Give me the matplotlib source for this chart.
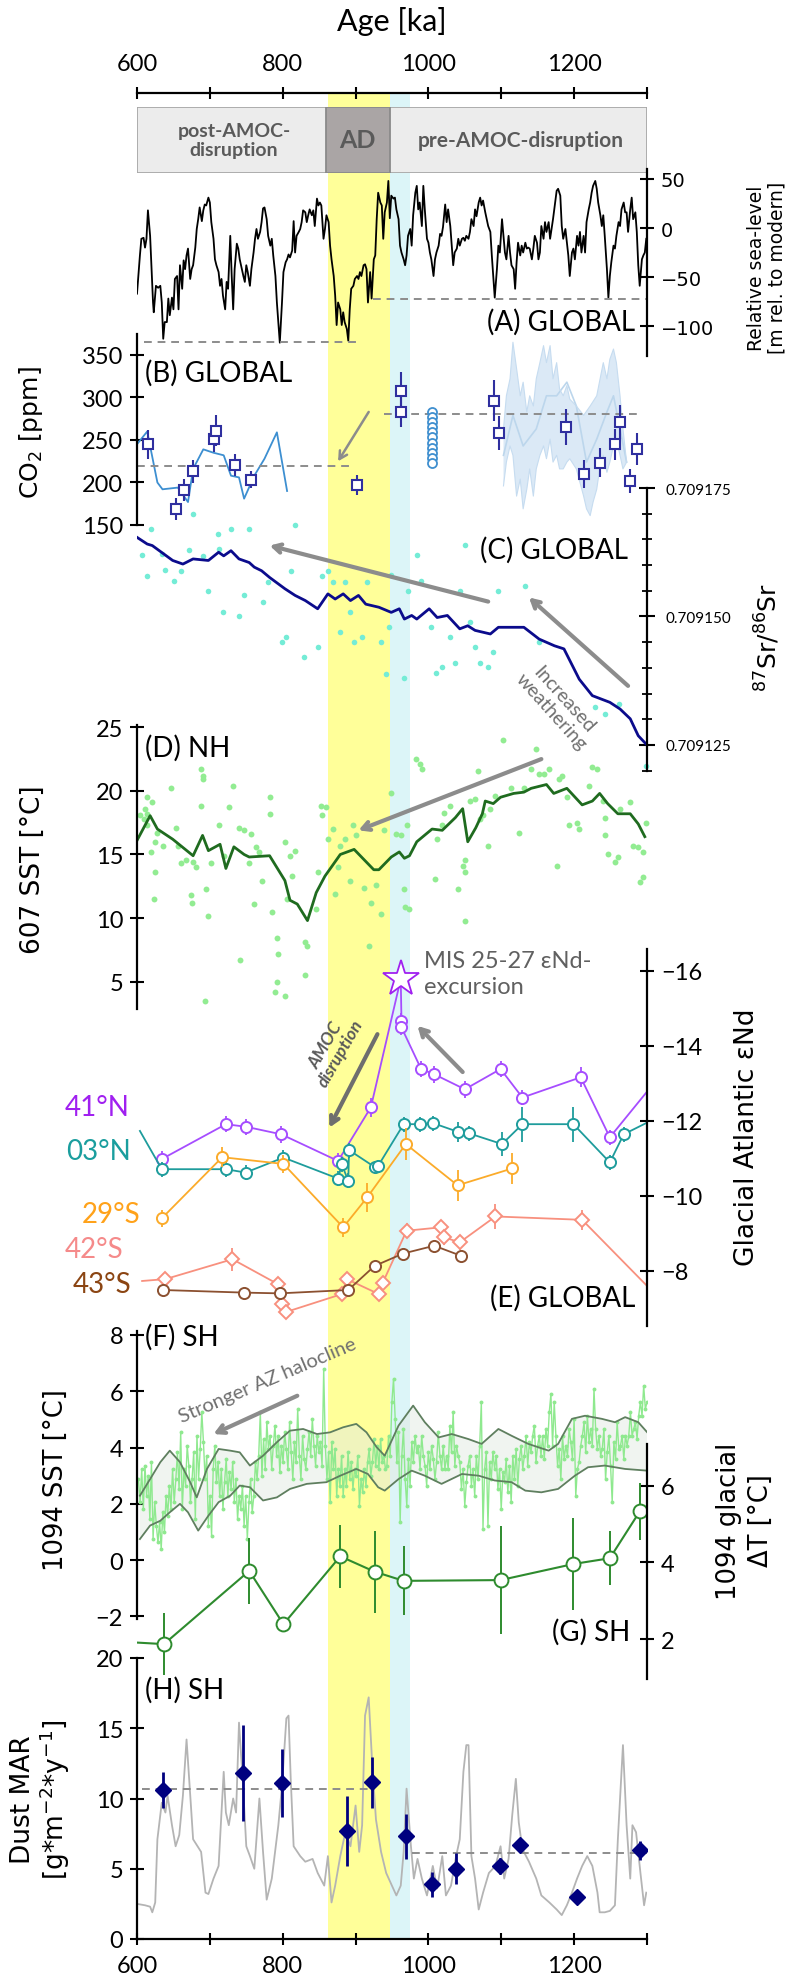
import numpy as np
import matplotlib
matplotlib.use("Agg")
import matplotlib.pyplot as plt
from matplotlib.patches import Rectangle

plt.rcParams['font.family'] = ['Lato', 'DejaVu Sans']

# ---------------- data ----------------
AGE_MIN, AGE_MAX = 600, 1300
AD_BOX = (859.5, 947)
YELLOW = (862, 947)
CYAN = (947, 975)

# (A) relative sea level [m]
sea = [(600,-67),(604,-28),(606,-11),(609,-10),(611,-20),(613,-11),(615,18),(618,-8),(620,-42),(622,-76),
       (623,-86),(626,-59),(629,-61),(632,-59),(634,-76),(636,-113),(638,-96),(641,-96),(643,-72),(645,-89),
       (648,-71),(650,-83),(652,-52),(655,-49),(657,-83),(659,-38),(662,-62),(664,-33),(666,-42),(668,-28),
       (670,-21),(673,-52),(675,-42),(677,-38),(680,-20),(682,-1),(684,9),(686,21),(689,7),(691,18),
       (693,24),(695,23),(698,31),(700,26),(702,6),(705,-11),(707,-32),(709,-38),(712,-45),(714,-59),
       (716,-52),(718,-69),(721,-83),(723,-55),(725,-62),(728,-8),(730,-49),(732,-83),(734,-42),(737,-16),
       (739,-21),(741,-32),(746,-49),(748,-55),(750,-38),(752,-45),(755,-59),(757,-42),(760,-25),(762,-11),
       (764,-1),(766,-11),(769,-4),(771,6),(773,20),(775,21),(778,9),(780,-8),(783,-18),(785,-11),
       (787,-28),(790,-49),(792,-76),(794,-96),(796,-117),(799,-76),(801,-45),(804,-35),(806,-32),(808,-27),
       (810,-30),(813,-23),(815,7),(817,-25),(819,-8),(822,-4),(824,-1),(826,6),(828,18),(831,16),
       (833,6),(835,13),(837,19),(840,13),(842,18),(844,2),(847,30),(849,23),(851,26),(853,23),
       (856,-11),(858,-1),(860,13),(863,6),(865,-18),(867,-32),(870,-49),(872,-69),(874,-99),(876,-76),
       (879,-83),(881,-99),(883,-86),(885,-96),(888,-103),(890,-115),(892,-83),(894,-62),(897,-59),(899,-52),
       (902,-49),(904,-52),(906,-45),(908,-49),(911,-38),(913,-37),(915,-42),(917,-76),(920,-45),(922,-72),
       (925,-32),(927,-28),(929,9),(931,36),(934,26),(936,23),(938,-11),(940,16),(943,26),(945,48),
       (947,10),(949,33),(952,30),(954,31),(956,19),(959,9),(961,-18),(963,-25),(966,-32),(968,-38),
       (970,-28),(972,-8),(975,-1),(977,-18),(979,13),(982,36),(984,43),(986,19),(988,26),(991,2),
       (993,43),(995,19),(998,-11),(1000,-15),(1002,-25),(1004,-32),(1007,-49),(1009,-32),(1011,-25),(1014,-18),
       (1016,-6),(1018,-8),(1020,1),(1023,24),(1025,6),(1027,19),(1030,2),(1032,-18),(1034,-38),(1036,-25),
       (1039,-21),(1041,-11),(1043,-18),(1046,-11),(1048,-10),(1050,-13),(1052,-8),(1055,-11),(1057,-4),(1059,9),
       (1062,2),(1064,19),(1066,12),(1069,26),(1071,31),(1073,23),(1075,28),(1078,16),(1080,9),(1082,2),
       (1085,-4),(1087,-28),(1089,-49),(1091,-71),(1094,-42),(1096,-18),(1098,-25),(1101,9),(1103,-8),(1105,-25),
       (1107,-32),(1110,-8),(1112,-25),(1114,-38),(1117,-42),(1119,-62),(1121,-35),(1123,-15),(1126,-28),(1128,-18),
       (1130,-25),(1133,-15),(1135,-21),(1137,-20),(1139,-21),(1142,-32),(1144,-21),(1146,-8),(1149,-15),(1151,-32),
       (1153,-25),(1155,2),(1158,-11),(1160,6),(1162,-4),(1165,6),(1167,-11),(1169,-1),(1171,9),(1174,26),
       (1176,38),(1178,40),(1181,33),(1183,2),(1185,-11),(1188,-1),(1190,-15),(1192,-28),(1194,-49),(1197,-25),
       (1199,-21),(1201,-32),(1204,-8),(1206,-18),(1208,-4),(1210,-25),(1213,-8),(1215,-25),(1217,6),(1220,19),
       (1222,26),(1224,36),(1226,43),(1229,48),(1231,40),(1233,26),(1236,13),(1238,2),(1240,13),(1242,-8),
       (1245,-42),(1247,-71),(1249,-49),(1251,-35),(1254,-18),(1256,-21),(1258,-8),(1261,6),(1263,2),(1265,19),
       (1268,26),(1270,16),(1272,16),(1274,-4),(1277,19),(1279,31),(1281,9),(1284,16),(1286,-4),(1288,-38),
       (1290,-59),(1293,-32),(1295,-28),(1297,-25),(1299,-11)]
sea_ref = [(-116.7, 609, 906), (-72, 924, 1300)]

# (B) CO2 [ppm]
co2_line = [(600,245),(614,260),(628,200),(635,192),(656,194),(670,177),(677,216),(691,239),(705,235),
            (719,232),(729,208),(740,206),(747,181),(761,208),(775,228),(792,259),(806,190)]
co2_sq_age = [615, 653, 665, 677, 706, 708, 735, 757, 902, 963, 963, 1090, 1097, 1189, 1214, 1235, 1256, 1263, 1277, 1286]
co2_sq_ppm = [245, 169, 191, 213, 251, 261, 221, 203, 197, 308, 283, 296, 258, 265, 210, 223, 245, 271, 202, 239]
co2_sq_err = [17, 13, 13, 14, 15, 18, 13, 10, 12, 22, 18, 24, 20, 21, 16, 17, 18, 20, 14, 19]
co2_circ_age = 1005
co2_circ_ppm = [283, 277, 271, 265, 259, 253, 247, 241, 235, 229, 223]
co2_band_hi = [(1103,263),(1107,302),(1112,322),(1116,365),(1121,334),(1126,302),(1130,318),(1135,283),(1139,302),
               (1144,290),(1148,322),(1153,341),(1158,361),(1162,341),(1167,361),(1171,322),(1176,341),(1180,310),
               (1185,302),(1190,314),(1194,298),(1203,290),(1213,279),(1222,290),(1231,302),(1240,341),(1245,322),
               (1249,345),(1254,357),(1258,341),(1263,302),(1267,263),(1272,224)]
co2_band_lo = [(1103,196),(1107,224),(1112,243),(1116,232),(1121,184),(1126,204),(1130,169),(1135,192),(1139,216),
               (1144,184),(1148,216),(1153,232),(1158,243),(1162,228),(1167,251),(1171,224),(1176,232),(1180,216),
               (1185,216),(1190,224),(1194,228),(1203,216),(1213,184),(1217,169),(1222,161),(1226,177),(1231,192),
               (1235,216),(1240,232),(1245,212),(1249,224),(1254,243),(1258,251),(1263,232),(1267,216),(1272,224)]
co2_band_mid = [(1103,232),(1116,279),(1130,243),(1148,263),(1162,302),(1176,302),(1190,318),(1203,290),
                (1217,224),(1231,251),(1245,283),(1254,302),(1263,263),(1272,224)]
co2_ref = [(219, 600, 898), (281, 939, 1291)]

# (C) 87Sr/86Sr
sr_line = [(600,0.7091654),(614,0.7091641),(621,0.7091638),(649,0.7091609),(663,0.7091602),(677,0.7091612),
           (698,0.7091609),(712,0.7091625),(719,0.7091618),(729,0.7091628),(740,0.7091612),(754,0.7091605),
           (761,0.7091596),(771,0.7091589),(782,0.7091576),(803,0.7091554),(817,0.7091541),(831,0.7091531),
           (848,0.7091515),(862,0.7091544),(872,0.7091534),(883,0.7091544),(893,0.7091531),(904,0.7091541),
           (914,0.7091524),(932,0.7091518),(949,0.7091508),(960,0.7091515),(967,0.7091495),(977,0.7091502),
           (984,0.7091495),(1001,0.7091515),(1012,0.7091498),(1026,0.7091502),(1043,0.7091476),(1054,0.7091482),
           (1064,0.7091473),(1085,0.7091466),(1096,0.7091479),(1131,0.7091479),(1152,0.7091456),(1173,0.7091443),
           (1186,0.7091437),(1207,0.7091378),(1225,0.7091346),(1249,0.7091333),(1263,0.7091320),(1277,0.7091301),
           (1288,0.7091268),(1300,0.7091250)]
sr_dots = [(677,169.9),(619,167.0),(711,166.1),(729,167.0),(754,167.0),(817,167.8),(607,162.0),(634,162.2),
           (672,163.0),(690,161.8),(713,163.1),(614,157.9),(639,159.1),(651,157.0),(660,158.9),(697,155.0),
           (747,154.1),(773,152.9),(780,156.8),(811,158.9),(718,150.9),(740,150.0),(862,158.9),(854,157.9),
           (869,156.8),(886,156.8),(916,156.8),(893,150.9),(949,158.1),(972,154.9),(984,162.0),(990,157.0),
           (1050,163.9),(1043,155.0),(1096,155.0),(1132,156.0),(804,146.0),(799,145.1),(829,142.1),(849,144.0),
           (879,146.9),(898,145.1),(909,146.0),(935,145.1),(946,147.9),(942,138.8),(967,138.0),(1004,147.9),
           (1029,146.0),(1057,149.0),(1036,141.0),(1011,139.0),(1018,140.1),(1064,144.0),(1071,141.0),(1082,140.1),
           (1089,143.0),(1152,145.0),(1242,131.0),(1262,133.0),(1228,132.3),(1298,121.0)]  # 1e-6 above 0.709

# (D) ODP 607 SST [degC]
sst607_line = [(600,16.1),(618,18.05),(628,17.0),(649,16.2),(677,14.9),(690,16.5),(698,15.3),(714,15.8),(722,13.9),
               (733,15.6),(747,15.0),(754,14.8),(782,14.9),(803,12.95),(810,11.4),(820,11.1),(834,9.8),(846,12.0),
               (858,13.3),(879,15.0),(898,15.4),(925,13.8),(932,13.8),(949,14.8),(960,15.2),(967,14.7),(974,14.9),
               (984,16.0),(1005,17.0),(1019,16.9),(1037,17.9),(1047,18.6),(1054,16.0),(1065,17.1),(1074,18.2),
               (1078,19.2),(1089,19.0),(1099,19.5),(1117,19.8),(1131,19.9),(1141,20.2),(1162,20.5),(1172,19.8),
               (1190,20.2),(1211,18.9),(1225,19.2),(1235,19.8),(1246,19.0),(1260,18.2),(1277,18.2),(1288,17.4),
               (1297,16.4)]
sst607_dots = [(614,19.5),(611,18.6),(614,18.2),(604,18.1),(609,17.8),(614,17.3),(621,19.1),(628,16.7),(625,16.0),
               (619,15.2),(625,13.6),(624,11.5),(646,20.2),(653,17.1),(635,15.7),(656,15.7),(660,14.3),(667,14.6),
               (677,14.4),(681,14.0),(674,11.8),(676,11.2),(688,21.7),(690,20.9),(691,21.2),(688,18.8),(695,12.3),
               (697,10.2),(702,14.3),(712,17.3),(719,14.9),(726,18.7),(732,20.4),(740,17.1),(747,16.9),(754,14.3),
               (757,16.6),(761,11.1),(764,15.6),(768,15.2),(771,12.9),(782,19.5),(782,18.2),(785,10.5),(792,8.4),
               (794,7.2),(803,16.0),(806,11.5),(810,14.9),(817,15.3),(813,13.3),(831,8.1),(834,7.8),(831,5.5),
               (845,10.7),(848,13.6),(852,18.8),(859,18.7),(854,18.1),(862,16.2),(869,17.0),(872,11.9),(876,14.0),
               (879,15.7),(886,16.2),(892,12.9),(897,17.3),(900,16.5),(911,12.4),(918,7.8),(921,11.2),(928,12.6),
               (935,10.3),(939,16.9),(949,19.8),(956,16.6),(963,16.5),(970,17.3),(967,12.3),(968,10.9),(974,10.7),
               (983,22.5),(988,22.1),(991,21.7),(1012,16.2),(1009,13.1),(1019,17.3),(1022,18.3),(1029,18.8),
               (1040,12.3),(1048,14.1),(1050,13.6),(1050,14.6),(1050,9.8),(1057,19.2),(1064,19.4),(1068,21.6),
               (1071,17.8),(1075,18.1),(1082,15.7),(1085,18.6),(1092,19.6),(1103,24.0),(1113,20.2),(1124,16.7),
               (1131,20.2),(1141,21.7),(1148,23.3),(1152,21.3),(1158,21.3),(1166,21.7),(1176,14.1),(1179,20.9),
               (1183,21.2),(1190,19.5),(1193,17.3),(1204,17.5),(1207,17.0),(1221,20.4),(1225,21.9),(1232,21.7),
               (1239,19.2),(1242,17.9),(1242,16.5),(1246,15.0),(1256,14.4),(1260,14.8),(1263,18.6),(1277,19.1),
               (1281,15.7),(1288,15.6),(1295,15.2),(1290,12.8),(1295,13.2),(1298,17.5),(741,6.7),(792,5.0),
               (789,4.2),(803,3.9),(694,3.5)]

# (E) glacial Atlantic eps-Nd
nd41_age = [634, 722, 750, 798, 876, 921, 962, 963, 963, 990, 1008, 1050, 1099, 1129, 1209, 1249, 1301]
nd41_val = [-10.98, -11.91, -11.84, -11.64, -10.93, -12.36, -15.78, -14.67, -14.49, -13.38, -13.24, -12.84,
            -13.38, -12.62, -13.16, -11.56, -12.8]
nd41_err = [0.22, 0.22, 0.22, 0.22, 0.2, 0.25, 0, 0.2, 0.2, 0.22, 0.22, 0.22, 0.22, 0.2, 0.27, 0.2, 0]
nd03_age = [604, 634, 722, 749, 801, 876, 881, 890, 891, 926, 931, 966, 989, 1006, 1040, 1055, 1101, 1129,
            1199, 1249, 1268, 1301]
nd03_val = [-11.73, -10.71, -10.71, -10.62, -11.02, -10.46, -10.84, -10.40, -11.22, -10.77, -10.80, -11.91,
            -11.91, -11.94, -11.71, -11.67, -11.38, -11.91, -11.91, -10.89, -11.64, -11.96]
nd03_err = [0, 0.2, 0.2, 0.2, 0.2, 0.2, 0.2, 0.2, 0.2, 0.15, 0.15, 0.2, 0.2, 0.2, 0.27, 0.2, 0.31, 0.47,
            0.47, 0.2, 0.2, 0]
nd29_age = [634, 717, 801, 883, 916, 969, 1040, 1115]
nd29_val = [-9.40, -11.03, -10.85, -9.16, -9.96, -11.38, -10.28, -10.73]
nd29_err = [0.22, 0.27, 0.25, 0.25, 0.38, 0.42, 0.42, 0.42]
nd42_age = [607, 639, 731, 794, 799, 804, 881, 888, 932, 937, 970, 1017, 1022, 1043, 1092, 1211, 1300]
nd42_val = [-7.73, -7.78, -8.31, -7.64, -7.11, -6.90, -7.38, -7.78, -7.38, -7.67, -9.07, -9.16, -8.89,
            -8.76, -9.45, -9.36, -7.6]
nd42_err = [0, 0.15, 0.31, 0.2, 0.15, 0.15, 0.15, 0.15, 0.15, 0.15, 0.2, 0.2, 0.2, 0.2, 0.33, 0.27, 0]
nd43_age = [635, 747, 796, 890, 926, 965, 1008, 1045]
nd43_val = [-7.49, -7.42, -7.40, -7.49, -8.13, -8.46, -8.67, -8.40]
nd_star = (962, -15.78)

# (F) ODP 1094 SST [degC], dense record in two stretches
f_span_a = (602, 941)
f_sst_a = [2.88,2.06,3.24,1.82,3.36,2.29,3.00,1.46,3.48,0.75,2.06,1.23,0.63,1.35,0.40,1.70,0.99,2.29,1.58,2.65,
           1.82,3.24,2.06,2.88,3.83,2.53,4.54,1.82,3.24,2.65,4.07,3.36,2.06,2.88,3.83,1.46,4.42,2.88,3.95,5.25,
           4.19,2.88,3.71,1.23,2.29,0.87,3.24,4.07,2.77,3.48,2.29,3.24,1.82,2.77,3.60,2.29,3.12,2.53,3.48,2.06,
           2.88,1.46,2.29,1.82,2.65,1.23,2.29,0.75,2.06,2.88,1.70,2.29,3.48,2.88,3.71,5.25,3.00,4.31,3.24,4.90,
           3.95,4.42,3.24,4.07,4.78,3.71,4.42,3.12,4.07,3.48,4.54,3.95,3.24,4.90,3.83,2.88,4.19,3.48,5.37,3.71,
           2.88,4.42,3.60,3.24,3.95,4.54,3.71,5.02,4.07,3.36,4.42,3.83,4.19,3.36,6.80,4.07,2.88,3.83,2.06,4.19,
           3.24,3.95,2.29,3.24,2.65,3.71,2.29,3.24,2.65,3.83,2.88,3.48,2.53,3.24,3.00,3.71,1.94,2.88,2.41,3.24,
           2.65,3.48,3.95,3.00,3.48,4.31,3.36,4.07,3.24,4.31,3.48,3.71,3.24]
f_span_b = (943, 1300)
f_sst_b = [3.36,4.42,3.71,5.61,6.44,5.02,3.48,4.54,1.35,3.71,4.66,2.88,1.94,3.60,2.65,4.19,3.48,4.42,3.83,4.07,
           3.24,4.42,3.71,3.36,2.65,3.83,3.24,4.07,3.60,2.88,3.48,4.54,3.71,3.24,4.07,3.24,3.71,3.24,4.78,3.83,
           5.25,3.36,4.07,3.71,3.48,2.53,3.24,1.94,2.77,3.36,3.71,2.65,3.24,2.29,3.71,2.88,4.07,5.61,1.11,3.24,
           3.83,1.23,3.48,2.88,3.83,3.24,3.71,2.53,3.24,1.82,3.12,2.77,3.60,2.41,3.36,2.06,3.71,2.88,3.95,2.65,
           3.60,4.07,3.24,3.71,4.42,3.36,4.19,3.83,4.42,4.78,3.48,4.07,4.42,3.71,4.42,3.60,4.66,4.07,5.25,5.90,
           4.07,5.61,4.42,3.36,3.95,2.88,4.42,3.60,4.07,3.71,4.66,4.19,3.60,5.02,2.29,3.24,3.48,4.07,4.42,4.90,
           3.83,5.13,4.19,4.66,4.07,6.08,4.66,3.95,4.42,3.71,3.95,4.66,2.88,3.83,4.42,3.36,2.06,4.19,3.60,4.90,
           3.95,4.07,4.42,3.60,4.42,4.07,4.42,5.25,4.42,4.66,4.90,4.31,5.13,5.61,5.13,6.20,5.37,5.61]
f_env_hi = [(604,2.29),(618,2.88),(632,3.48),(645,3.89),(659,3.48),(673,2.77),(682,2.23),(696,3.24),(712,3.95),
            (728,3.89),(741,3.83),(755,3.36),(773,3.71),(792,4.19),(810,4.60),(828,4.66),(847,4.48),(865,4.54),
            (883,4.72),(901,4.84),(915,4.54),(929,4.01),(940,3.71),(959,4.78),(979,5.49),(995,4.90),(1014,4.36),
            (1032,4.48),(1055,4.30),(1073,4.13),(1096,4.66),(1114,4.42),(1137,4.13),(1165,3.89),(1178,4.13),
            (1197,5.02),(1215,5.13),(1238,5.02),(1256,4.90),(1270,5.08),(1288,4.90),(1300,4.55)]
f_env_lo = [(604,0.75),(618,1.23),(632,1.40),(645,1.70),(659,2.0),(670,1.70),(684,1.05),(698,1.58),(712,2.06),
            (728,2.29),(741,2.65),(755,2.59),(773,2.12),(792,2.23),(810,2.53),(833,2.71),(860,2.77),(879,3.0),
            (901,3.24),(917,3.06),(931,2.59),(940,2.47),(959,2.88),(977,3.18),(995,3.0),(1018,2.71),(1046,3.06),
            (1069,3.0),(1091,2.83),(1114,2.77),(1133,2.47),(1155,2.41),(1178,2.53),(1201,3.0),(1219,3.30),
            (1242,3.36),(1270,3.24),(1300,3.18)]

# (G) ODP 1094 glacial dT [degC]
g_age = [600, 637, 754, 801, 879, 926, 966, 1099, 1199, 1249, 1290]
g_val = [1.91, 1.87, 3.78, 2.39, 4.16, 3.76, 3.52, 3.54, 3.96, 4.11, 5.33]
g_err = [0, 0.8, 0.87, 0, 0.83, 1.07, 0.9, 1.4, 1.2, 0.7, 0.75]

# (H) dust MAR
dust_age = [600,611,618,621,625,628,634,639,642,648,653,658,663,668,674,677,688,694,698,705,
            712,719,722,726,732,736,740,745,750,755,761,768,773,778,785,794,799,805,808,811,
            815,824,831,841,848,857,862,867,872,879,886,893,900,905,909,913,918,923,928,935,
            942,949,956,962,966,970,976,980,985,991,998,1006,1012,1019,1024,1031,1038,1043,1048,1052,
            1055,1059,1064,1069,1075,1083,1092,1099,1104,1110,1115,1120,1124,1129,1138,1148,1155,1166,1176,1183,
            1190,1197,1204,1211,1218,1225,1232,1235,1242,1249,1256,1260,1267,1272,1277,1280,1285,1291,1296,1299]
dust_val = [2.5,2.4,2.3,1.9,2.6,7.1,9.7,9.0,10.2,8.1,6.6,7.4,10.2,14.2,9.5,7.1,6.2,3.3,3.2,4.3,
            5.2,11.9,9.0,8.1,10.0,9.0,15.4,11.4,6.6,5.9,5.0,10.0,6.2,2.8,4.3,8.1,10.9,15.7,15.9,11.4,
            6.6,5.9,5.5,5.7,4.7,3.8,5.9,2.6,3.8,5.9,7.6,6.6,9.5,6.2,8.1,15.9,17.2,12.3,8.5,6.2,
            4.7,3.9,3.1,3.8,6.2,10.7,6.6,4.3,5.7,4.3,3.1,5.2,3.6,5.9,3.1,3.8,5.9,7.1,11.9,13.8,
            13.8,5.9,4.3,2.1,3.3,4.7,5.2,6.6,4.3,5.7,8.8,11.4,8.3,6.4,5.5,4.3,3.1,2.6,2.1,1.7,
            2.4,3.3,4.3,5.2,5.9,5.2,3.3,1.9,1.9,2.0,2.4,7.1,13.8,8.1,4.3,8.1,7.6,4.7,2.4,3.3]
dust_d_age = [635, 745, 799, 888, 923, 969, 1005, 1038, 1098, 1125, 1204, 1290]
dust_d_val = [10.6, 11.8, 11.1, 7.7, 11.15, 7.3, 3.9, 5.0, 5.2, 6.7, 3.0, 6.3]
dust_d_err = [1.3, 3.4, 2.4, 2.5, 1.8, 1.6, 0.9, 1.1, 0.6, 0.3, 0.3, 0.7]
dust_ref = [(10.65, 607, 921), (6.15, 977, 1300)]

# ---------------- figure ----------------
W, H = 797, 1981
X0, X1 = 137, 647
GRAY = '#8c8c8c'
fig = plt.figure(figsize=(W / 100, H / 100), dpi=100)


def box(y0, y1):
    return [X0 / W, 1 - y1 / H, (X1 - X0) / W, (y1 - y0) / H]


def put(x, y, s, **kw):
    fig.text(x / W, 1 - y / H, s, **kw)


def unzip(pairs):
    a, b = zip(*pairs)
    return np.array(a, float), np.array(b, float)


def panel(y0, y1, ylim, side, ticks, size=17):
    ax = fig.add_axes(box(y0, y1))
    ax.set_xlim(AGE_MIN, AGE_MAX)
    ax.set_ylim(*ylim)
    ax.set_facecolor('none')
    for s in ('top', 'bottom', 'left', 'right'):
        ax.spines[s].set_visible(s == side)
    ax.spines[side].set_linewidth(1.6)
    ax.set_xticks([])
    ax.yaxis.set_ticks_position(side)
    ax.set_yticks(ticks)
    ax.tick_params(axis='y', direction='inout', length=10, width=1.5, labelsize=size, pad=5)
    return ax


def dashed(ax, refs):
    for y, a0, a1 in refs:
        ax.plot([a0, a1], [y, y], ls=(0, (4, 3)), color=GRAY, lw=1.4)


def arrow(ax, start, end, lw=3.0, color=GRAY):
    ax.annotate('', xy=end, xytext=start, annotation_clip=False,
                arrowprops=dict(arrowstyle='->,head_length=0.55,head_width=0.3', color=color, lw=lw,
                                shrinkA=0, shrinkB=0))


def ylabel(x, y, s, size=19, **kw):
    put(x, y, s, rotation=90, ha='center', va='center', fontsize=size, family='DejaVu Sans',
        multialignment='center', **kw)


# background axis with bands, bottom and top age axes
base = fig.add_axes(box(94, 1940))
base.set_xlim(AGE_MIN, AGE_MAX)
base.set_ylim(0, 1)
base.axvspan(*YELLOW, color='#ffff99', lw=0)
base.axvspan(*CYAN, color='#dcf5f8', lw=0)
xt = list(range(600, 1301, 100))
xl = [str(t) if t % 200 == 0 else '' for t in xt]
for s in ('left', 'right', 'top'):
    base.spines[s].set_visible(False)
base.spines['bottom'].set_linewidth(1.6)
base.set_yticks([])
base.set_xticks(xt)
base.set_xticklabels(xl)
base.tick_params(axis='x', direction='inout', length=9, width=1.5, labelsize=17, pad=7)

topx = base.twiny()
topx.set_xlim(AGE_MIN, AGE_MAX)
for s in ('left', 'right', 'bottom'):
    topx.spines[s].set_visible(False)
topx.spines['top'].set_linewidth(1.6)
topx.set_xticks(xt)
topx.set_xticklabels(xl)
topx.tick_params(axis='x', direction='inout', length=9, width=1.5, labelsize=17, pad=9)
put(392, 22, 'Age [ka]', ha='center', va='center', fontsize=22)

# header
hdr = fig.add_axes(box(108, 174))
hdr.set_xlim(AGE_MIN, AGE_MAX)
hdr.set_ylim(0, 1)
hdr.axis('off')
hdr.add_patch(Rectangle((AGE_MIN, 0), AGE_MAX - AGE_MIN, 1, fc='#ececec', ec='#a8a8a8', lw=1.3))
hdr.add_patch(Rectangle((AD_BOX[0], 0), AD_BOX[1] - AD_BOX[0], 1, fc='#aaa5a5', ec='#8a8a8a', lw=1.3))
hdr.text(733, 0.5, 'post-AMOC-\ndisruption', ha='center', va='center', fontsize=14, fontweight='bold',
         color='#5a5a5a', linespacing=1.15)
hdr.text(903, 0.5, 'AD', ha='center', va='center', fontsize=18, fontweight='bold', color='#5a5a5a')
hdr.text(1127, 0.5, 'pre-AMOC-disruption', ha='center', va='center', fontsize=15, fontweight='bold',
         color='#5a5a5a')

# (A) sea level
ax_a = panel(170, 357, (-130.6, 60.2), 'right', [50, 0, -50, -100], size=14)
for lab in ax_a.get_yticklabels():
    lab.set_family('DejaVu Sans')
a_age, a_val = unzip(sea)
ax_a.plot(a_age, a_val, color='black', lw=1.3)
dashed(ax_a, sea_ref)
put(635, 322, '(A) GLOBAL', ha='right', va='center', fontsize=20)
ylabel(767, 268, 'Relative sea-level\n[m rel. to modern]', size=13.5, linespacing=1.1)

# (B) CO2
ax_b = panel(335, 526, (150, 374.7), 'left', [150, 200, 250, 300, 350])
hi_a, hi_v = unzip(co2_band_hi)
lo_a, lo_v = unzip(co2_band_lo)
ax_b.fill(np.concatenate([hi_a, lo_a[::-1]]), np.concatenate([hi_v, lo_v[::-1]]),
          color='#d3e4f4', alpha=0.8, lw=0)
md_a, md_v = unzip(co2_band_mid)
ax_b.plot(md_a, md_v, color='#bcd6ec', lw=1.2)
ax_b.plot(hi_a, hi_v, color='#c6dcf0', lw=0.8)
ax_b.plot(lo_a, lo_v, color='#c6dcf0', lw=0.8)
ln_a, ln_v = unzip(co2_line)
ax_b.plot(ln_a, ln_v, color='#3d8fd1', lw=1.3)
dashed(ax_b, co2_ref)
ax_b.plot([co2_circ_age] * len(co2_circ_ppm), co2_circ_ppm, 'o', ms=6.5, mfc='white', mec='#3f8fcf', mew=1.3)
ax_b.errorbar(co2_sq_age, co2_sq_ppm, yerr=co2_sq_err, fmt='s', ms=7.5, mfc='white', mec='#2f2f9f',
              ecolor='#2f2f9f', mew=1.5, elinewidth=1.5, capsize=0)
arrow(ax_b, (918, 283), (876, 225), lw=1.8)
put(145, 373, '(B) GLOBAL', ha='left', va='center', fontsize=20)
ylabel(31, 433, 'CO$_2$ [ppm]', size=18)

# (C) Sr isotopes
ax_c = panel(489, 772, (0.70911994, 0.709175), 'right', [0.709125, 0.709150, 0.709175], size=11)
ax_c.set_yticklabels(['0.709125', '0.709150', '0.709175'])
ax_c.set_yticks(np.arange(0.709120, 0.7091751, 0.000005), minor=True)
ax_c.tick_params(axis='y', which='major', length=12, pad=7)
ax_c.tick_params(axis='y', which='minor', direction='inout', length=7, width=1.3)
d_a, d_v = unzip(sr_dots)
ax_c.scatter(d_a, 0.709 + d_v * 1e-6, s=16, color='#74ecd6', lw=0, clip_on=False)
s_a, s_v = unzip(sr_line)
ax_c.plot(s_a, s_v, color='#0b0b8c', lw=2.0)
arrow(ax_c, (1082, 0.7091529), (782, 0.7091638))
arrow(ax_c, (1274, 0.7091365), (1138, 0.7091537))
put(628, 550, '(C) GLOBAL', ha='right', va='center', fontsize=20)
put(558, 706, 'Increased\nweathering', ha='center', va='center', rotation=-48, rotation_mode='anchor',
    fontsize=14, color='#707070', multialignment='center', linespacing=1.0)
ylabel(767, 637, '$^{87}$Sr/$^{86}$Sr', size=18)

# (D) ODP 607 SST
ax_d = panel(726, 1010, (2.85, 25.18), 'left', [5, 10, 15, 20, 25])
p_a, p_v = unzip(sst607_dots)
ax_d.scatter(p_a, p_v, s=18, color='#92ec92', lw=0, clip_on=False)
q_a, q_v = unzip(sst607_line)
ax_d.plot(q_a, q_v, color='#1f6b1f', lw=2.0)
arrow(ax_d, (1155, 22.5), (904, 16.9))
put(145, 748, '(D) NH', ha='left', va='center', fontsize=20)
ylabel(33, 870, '607 SST [°C]', size=19)

# (E) eps-Nd
ax_e = panel(950, 1327, (-6.53, -16.58), 'right', [-16, -14, -12, -10, -8])
nd_sets = [
    (nd41_age, nd41_val, nd41_err, '#a64dff', 'o', [0, 1, 2, 3, 4, 5, 7, 8, 9, 10, 11, 12, 13, 14, 15]),
    (nd03_age, nd03_val, nd03_err, '#1e9c9c', 'o', list(range(1, 21))),
    (nd29_age, nd29_val, nd29_err, '#fbab2a', 'o', list(range(8))),
    (nd42_age, nd42_val, nd42_err, '#f8907e', 'D', list(range(1, 16))),
    (nd43_age, nd43_val, None, '#8b5030', 'o', list(range(8))),
]
for ages, vals, errs, col, mk, idx in nd_sets:
    ax_e.plot(ages, vals, color=col, lw=1.3)
    if errs is not None:
        ax_e.errorbar(ages, vals, yerr=errs, fmt='none', ecolor=col, elinewidth=1.3, capsize=0)
    ms = 7 if mk == 'D' else 8
    ax_e.plot(np.array(ages)[idx], np.array(vals)[idx], mk, ms=ms, mfc='white', mec=col, mew=1.4)
ax_e.plot(*nd_star, marker='*', ms=27, mfc='white', mec='#a020f0', mew=1.3)
arrow(ax_e, (1047, -13.3), (985, -14.53))
arrow(ax_e, (930, -14.31), (864, -11.82), color='#6e6e6e')
put(424, 962, 'MIS 25-27 εNd-', ha='left', va='center', fontsize=17, color='#606060')
put(424, 988, 'excursion', ha='left', va='center', fontsize=17, color='#606060')
put(333, 1050, 'AMOC\ndisruption', ha='center', va='center', rotation=60, rotation_mode='anchor',
    fontsize=12.5, fontweight='bold', fontstyle='italic', color='#595959', multialignment='center',
    linespacing=1.05)
for txt, x, y, col in [('41°N', 130, 1108, '#a020f0'), ('03°N', 131, 1152, '#1a9e9e'),
                       ('29°S', 140, 1215, '#ffa21a'), ('42°S', 123, 1250, '#f58a8a'),
                       ('43°S', 131, 1285, '#8b4513')]:
    put(x, y, txt, ha='right', va='center', fontsize=20, color=col)
put(635, 1298, '(E) GLOBAL', ha='right', va='center', fontsize=20)
ylabel(747, 1137, 'Glacial Atlantic εNd', size=19)

# (F) ODP 1094 SST
ax_f = panel(1332, 1620, (-2.09, 8.14), 'left', [-2, 0, 2, 4, 6, 8])
eh_a, eh_v = unzip(f_env_hi)
el_a, el_v = unzip(f_env_lo)
ax_f.fill(np.concatenate([eh_a, el_a[::-1]]), np.concatenate([eh_v, el_v[::-1]]),
          color='#e2eae2', alpha=0.5, lw=0)
fa = np.linspace(*f_span_a, len(f_sst_a))
fb = np.linspace(*f_span_b, len(f_sst_b))
for ages, vals in ((fa, f_sst_a), (fb, f_sst_b)):
    ax_f.plot(ages, vals, '-o', color='#8fe98f', lw=1.0, ms=2.8, mew=0)
ax_f.plot(eh_a, eh_v, color='#5f7f5f', lw=1.3)
ax_f.plot(el_a, el_v, color='#5f7f5f', lw=1.3)
arrow(ax_f, (820, 5.84), (705, 4.48))
put(268, 1381, 'Stronger AZ halocline', ha='center', va='center', rotation=23, rotation_mode='anchor',
    fontsize=14.5, color='#707070')
put(145, 1337, '(F) SH', ha='left', va='center', fontsize=20)
ylabel(56, 1480, '1094 SST [°C]', size=18.5)

# (G) ODP 1094 glacial dT
ax_g = panel(1445, 1680, (0.96, 7.09), 'right', [2, 4, 6])
ax_g.errorbar(g_age, g_val, yerr=g_err, fmt='none', ecolor='#2e8b2e', elinewidth=1.4, capsize=0)
ax_g.plot(g_age, g_val, color='#2e8b2e', lw=1.5)
ax_g.plot(g_age[1:], g_val[1:], 'o', ms=10, mfc='white', mec='#2e8b2e', mew=1.4)
put(630, 1632, '(G) SH', ha='right', va='center', fontsize=20)
ylabel(745, 1521, '1094 glacial\nΔT [°C]', size=18.5, linespacing=1.25)

# (H) dust MAR
ax_h = panel(1659, 1940, (0, 20), 'left', [0, 5, 10, 15, 20])
ax_h.plot(dust_age, dust_val, color='#b4b4b4', lw=1.3)
dashed(ax_h, dust_ref)
ax_h.errorbar(dust_d_age, dust_d_val, yerr=dust_d_err, fmt='D', ms=8, color='#00007f', ecolor='#00007f',
              elinewidth=2.0, capsize=0)
put(145, 1690, '(H) SH', ha='left', va='center', fontsize=20)
ylabel(41, 1800, 'Dust MAR\n[g*m$^{-2}$*y$^{-1}$]', size=19, linespacing=1.05)

fig.savefig('out.png', dpi=100)
